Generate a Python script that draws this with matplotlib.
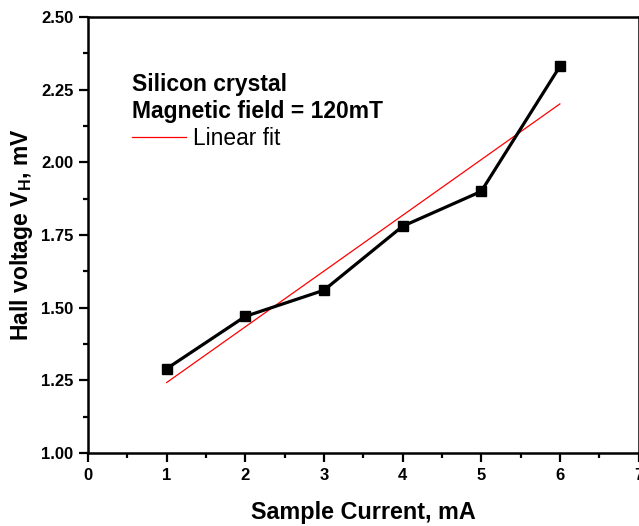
import numpy as np
import matplotlib
matplotlib.use("Agg")
import matplotlib.pyplot as plt
from matplotlib.ticker import MultipleLocator

plt.rcParams['font.family'] = ['Liberation Sans', 'DejaVu Sans']
plt.rcParams['mathtext.fontset'] = 'custom'
plt.rcParams['mathtext.rm'] = 'Liberation Sans:bold'
plt.rcParams['mathtext.bf'] = 'Liberation Sans:bold'

current_mA = [1, 2, 3, 4, 5, 6]
hall_mV = [1.29, 1.47, 1.56, 1.78, 1.90, 2.33]
x_ticks = [0, 1, 2, 3, 4, 5, 6, 7]
y_ticks = [1.00, 1.25, 1.50, 1.75, 2.00, 2.25, 2.50]

fig = plt.figure(figsize=(6.39, 5.26), dpi=100)
ax = fig.add_axes([88/639, (526-453)/526, (638.5-88)/639, (453-17)/526])

ax.plot(current_mA, hall_mV, color='black', lw=2.3, marker='s', ms=7, zorder=3)

coef = np.polyfit(current_mA, hall_mV, 1)
fit_y = np.polyval(coef, current_mA)
ax.plot(current_mA, fit_y, color='red', lw=0.9, label='Linear fit', zorder=2)

ax.set_xlim(0, 7)
ax.set_ylim(1.0, 2.5)
ax.set_xticks(x_ticks)
ax.set_yticks(y_ticks)
ax.set_yticklabels([f"{v:.2f}" for v in y_ticks])
ax.xaxis.set_minor_locator(MultipleLocator(0.5))
ax.yaxis.set_minor_locator(MultipleLocator(0.125))
ax.tick_params(which='major', direction='out', length=6.5, width=1.6, labelsize=12, pad=4)
ax.tick_params(which='minor', direction='out', length=3.5, width=1.6)
for lab in ax.get_xticklabels() + ax.get_yticklabels():
    lab.set_fontweight('bold')
for side in ['left', 'bottom', 'top', 'right']:
    ax.spines[side].set_linewidth(1.8)

ax.set_xlabel('Sample Current, mA', fontsize=16.8, fontweight='bold', labelpad=13)
ax.set_ylabel(r'Hall voltage V$_{\mathbf{H}}$, mV', fontsize=16.5, fontweight='bold', labelpad=4)

leg = ax.legend(title='Silicon crystal\nMagnetic field = 120mT', alignment='left',
                frameon=False, loc='upper left', bbox_to_anchor=(0.08, 0.872),
                fontsize=16.4, handlelength=2.35, handletextpad=0.33,
                labelspacing=0.15, borderaxespad=0, borderpad=0)
leg.get_title().set_fontweight('bold')
leg.get_title().set_fontsize(16.5)
leg.get_title().set_linespacing(1.25)

fig.savefig('out.png', dpi=100)
